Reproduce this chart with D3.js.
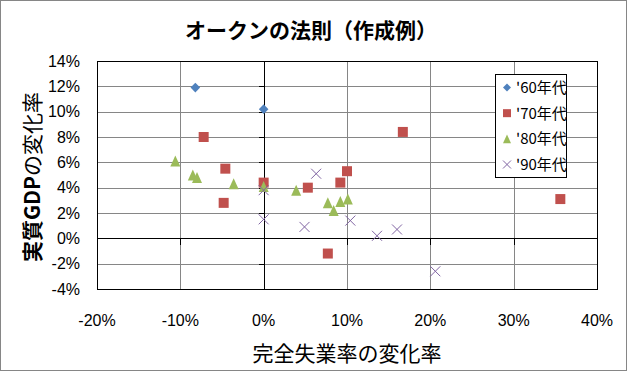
<!DOCTYPE html>
<html>
<head>
<meta charset="utf-8">
<script src="https://cdn.jsdelivr.net/npm/d3@7"></script>
<style>
  html, body { margin: 0; padding: 0; background: #fff; }
  svg { display: block; }
</style>
</head>
<body>
<div id="chart"></div>
<script>
// ---- data ----
const seriesNames = ["'60年代", "'70年代", "'80年代", "'90年代"];
const s60 = [[-8.2, 11.9], [0.0, 10.2]];
const s70 = [[-7.2, 8.0], [-4.6, 5.5], [0.0, 4.4], [-4.8, 2.8], [16.7, 8.4],
             [10.0, 5.3], [9.2, 4.4], [5.3, 4.0], [7.7, -1.2], [35.6, 3.1]];
const s80 = [[-10.6, 6.1], [-8.5, 5.0], [-8.0, 4.8], [-3.6, 4.3], [0.0, 4.1],
             [3.9, 3.8], [7.7, 2.8], [8.4, 2.2], [9.2, 2.9], [10.1, 3.1]];
const s90 = [[0.0, 3.8], [0.0, 1.5], [6.3, 5.1], [4.9, 0.9], [10.4, 1.4],
             [13.6, 0.2], [16.0, 0.7], [20.6, -2.6]];
const xTicks = [-20, -10, 0, 10, 20, 30, 40];
const yTicks = [-4, -2, 0, 2, 4, 6, 8, 10, 12, 14];
const title = "オークンの法則（作成例）";
const xTitle = "完全失業率の変化率";

// ---- layout ----
const W = 629, H = 374;
const L = 97, R = 597, T = 61, B = 289;
const colors = ["#4F81BD", "#C0504D", "#9BBB59", "#8064A2"];
const cjk = "'Noto Sans CJK JP', sans-serif";
const num = "'Liberation Sans', Arial, sans-serif";

const svg = d3.select("#chart").append("svg").attr("width", W).attr("height", H);
svg.append("rect").attr("x", 0.5).attr("y", 0.5).attr("width", 626).attr("height", 370)
  .attr("fill", "#fff").attr("stroke", "#868686");

const x = d3.scaleLinear().domain([-20, 40]).range([L, R]);
const y = d3.scaleLinear().domain([-4, 14]).range([B, T]);

// gridlines
const g = svg.append("g");
g.selectAll(".hg").data(yTicks.filter(v => v !== 0 && v !== -4 && v !== 14)).enter().append("line")
  .attr("x1", L).attr("x2", R).attr("y1", d => Math.round(y(d)) + 0.5).attr("y2", d => Math.round(y(d)) + 0.5)
  .attr("stroke", "#868686").attr("stroke-width", 1);
g.selectAll(".vg").data(xTicks.filter(v => v !== 0 && v !== -20 && v !== 40)).enter().append("line")
  .attr("y1", T).attr("y2", B).attr("x1", d => Math.round(x(d)) + 0.5).attr("x2", d => Math.round(x(d)) + 0.5)
  .attr("stroke", "#868686").attr("stroke-width", 1);

// zero axes with ticks
const yAxis = d3.axisLeft(y).tickValues(yTicks).tickSize(6).tickFormat("");
const xAxis = d3.axisBottom(x).tickValues(xTicks).tickSize(6).tickFormat("");
const ya = svg.append("g").attr("transform", `translate(${Math.round(x(0)) + 0.5},0)`).call(yAxis);
const xa = svg.append("g").attr("transform", `translate(0,${Math.round(y(0)) + 0.5})`).call(xAxis);
[ya, xa].forEach(a => {
  a.select(".domain").remove();
  a.selectAll(".tick line").attr("stroke", "#000").attr("shape-rendering", "crispEdges");
});
svg.append("line").attr("x1", Math.round(x(0)) + 0.5).attr("x2", Math.round(x(0)) + 0.5).attr("y1", T).attr("y2", B)
  .attr("stroke", "#000");
svg.append("line").attr("y1", Math.round(y(0)) + 0.5).attr("y2", Math.round(y(0)) + 0.5).attr("x1", L).attr("x2", R)
  .attr("stroke", "#000");

// plot border
svg.append("rect").attr("x", L + 0.5).attr("y", T + 0.5).attr("width", R - L).attr("height", B - T)
  .attr("fill", "none").attr("stroke", "#000");

// tick labels
svg.append("g").selectAll("text").data(yTicks).enter().append("text")
  .attr("x", 80).attr("y", d => y(d)).attr("dy", "0.36em").attr("text-anchor", "end")
  .attr("font-family", num).attr("font-size", 16).attr("fill", "#000")
  .text(d => d + "%");
svg.append("g").selectAll("text").data(xTicks).enter().append("text")
  .attr("x", d => x(d)).attr("y", 326).attr("text-anchor", "middle")
  .attr("font-family", num).attr("font-size", 16).attr("fill", "#000")
  .text(d => d + "%");

// titles
svg.append("text").attr("x", 311).attr("y", 38).attr("text-anchor", "middle")
  .attr("font-family", cjk).attr("font-size", 21).attr("font-weight", "bold").text(title);
svg.append("text").attr("x", (L + R) / 2).attr("y", 361).attr("text-anchor", "middle")
  .attr("font-family", cjk).attr("font-size", 21).text(xTitle);
const yt = svg.append("text").attr("transform", `translate(40,${(T + B) / 2 + 2}) rotate(-90)`)
  .attr("text-anchor", "middle").attr("font-family", cjk).attr("font-size", 21);
yt.append("tspan").attr("font-weight", "bold").text("実質GDP");
yt.append("tspan").text("の変化率");

// marker shapes
function markerPath(type, s) {
  if (type === 0) return `M0,${-s}L${s},0L0,${s}L${-s},0Z`;
  if (type === 1) return `M${-s},${-s}H${s}V${s}H${-s}Z`;
  if (type === 2) return `M0,${-s * 1.1}L${s},${s * 1.1}L${-s},${s * 1.1}Z`;
  return `M${-s},${-s}L${s},${s}M${-s},${s}L${s},${-s}`;
}
function drawMarkers(sel, type, color, s) {
  sel.attr("d", markerPath(type, s))
    .attr("fill", type === 3 ? "none" : color)
    .attr("stroke", type === 3 ? color : "none")
    .attr("stroke-width", 1);
}

const allSeries = [s60, s70, s80, s90];
allSeries.forEach((data, i) => {
  svg.append("g").selectAll("path").data(data).enter().append("path")
    .attr("transform", d => `translate(${x(d[0])},${y(d[1])})`)
    .call(drawMarkers, i, colors[i], i === 0 ? 4.8 : 5);
});

// legend
const lg = svg.append("g");
lg.append("rect").attr("x", 495.5).attr("y", 74.5).attr("width", 71).attr("height", 103)
  .attr("fill", "#fff").attr("stroke", "#000");
const ly = d3.scalePoint().domain(seriesNames).range([87.5, 164.5]);
seriesNames.forEach((name, i) => {
  lg.append("path").attr("transform", `translate(507,${ly(name)})`).call(drawMarkers, i, colors[i], 4);
  lg.append("text").attr("x", 516).attr("y", ly(name)).attr("dy", "0.36em")
    .attr("font-family", cjk).attr("font-size", 15).attr("fill", "#000").text(name);
});
</script>
</body>
</html>
